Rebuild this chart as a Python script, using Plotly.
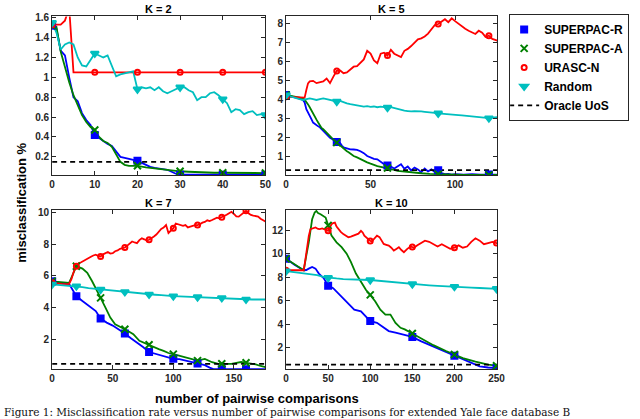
import plotly.graph_objects as go

# ---------------- data ----------------
# K = 2
k2_sr = [(0,1.52),(1,1.49),(2,1.27),(3,1.22),(4,1.0),(5,0.8),(6,0.76),(7,0.64),(8,0.57),(9,0.52),
         (10,0.42),(11,0.39),(12,0.36),(13,0.33),(14,0.31),(15,0.25),(16,0.2),(17,0.19),(18,0.18),
         (19,0.17),(20,0.16),(21,0.14),(22,0.12),(23,0.1),(24,0.09),(25,0.085),(26,0.08),(27,0.07),
         (28,0.05),(29,0.03),(30,0.02),(34,0.02),(38,0.02),(40,0.02),(44,0.02),(48,0.02),(50,0.02)]
k2_sa = [(0,1.52),(1,1.51),(2,1.26),(3,1.1),(4,0.95),(5,0.82),(6,0.72),(7,0.62),(8,0.55),(9,0.5),
         (10,0.47),(11,0.4),(12,0.36),(13,0.34),(14,0.3),(15,0.23),(16,0.15),(17,0.12),(18,0.11),
         (19,0.11),(20,0.11),(22,0.095),(24,0.085),(26,0.07),(28,0.06),(30,0.055),(32,0.05),
         (34,0.045),(36,0.04),(38,0.04),(40,0.04),(42,0.04),(44,0.038),(46,0.037),(48,0.037),(50,0.037)]
k2_ur = [(0,1.53),(1,1.53),(2,1.53),(3,1.57),(4,1.7),(5,1.05),(10,1.05),(20,1.05),(30,1.05),
         (40,1.05),(50,1.05)]
k2_rd = [(0,1.55),(1,1.45),(2,1.28),(3,1.33),(4,1.35),(5,1.33),(6,1.2),(7,1.12),(8,1.11),(9,1.18),
         (10,1.24),(11,1.22),(12,1.2),(13,1.22),(14,1.12),(15,1.01),(16,1.03),(17,1.04),(18,1.05),
         (19,1.06),(20,0.88),(21,0.9),(22,0.89),(23,0.9),(24,0.87),(25,0.9),(26,0.86),(27,0.84),
         (28,0.86),(29,0.88),(30,0.9),(31,0.9),(32,0.87),(33,0.85),(34,0.77),(35,0.8),(36,0.8),
         (37,0.84),(38,0.85),(39,0.82),(40,0.78),(41,0.74),(42,0.65),(43,0.68),(44,0.67),(45,0.63),
         (46,0.65),(47,0.66),(48,0.62),(49,0.63),(50,0.62)]
k2_oracle = 0.15
k2_marks = [0, 10, 20, 30, 40, 50]

# K = 5
k5_sr = [(0,4.24),(3,4.18),(6,4.1),(8,4.05),(10,3.98),(11,3.85),(12,3.5),(13,3.3),(14,3.1),(15,2.98),
         (16,2.8),(17,2.72),(18,2.68),(19,2.6),(20,2.55),(21,2.45),(22,2.38),(23,2.3),(24,2.17),
         (25,2.1),(26,2.0),(27,1.95),(28,1.88),(29,1.82),(30,1.78),(31,1.75),(32,1.73),(33,1.6),
         (34,1.5),(35,1.48),(36,1.45),(38,1.4),(40,1.39),(42,1.37),(44,1.3),(46,1.2),(48,1.05),
         (50,0.96),(52,0.9),(54,0.88),(56,0.75),(58,0.62),(60,0.55),(62,0.5),(64,0.4),(66,0.5),
         (68,0.62),(70,0.38),(72,0.5),(74,0.3),(76,0.45),(78,0.35),(80,0.2),(82,0.4),(84,0.25),
         (86,0.35),(88,0.2),(90,0.3),(92,0.15),(94,0.1),(96,0.12),(98,0.08),(100,0.1),(105,0.08),
         (110,0.1),(115,0.08),(120,0.09),(125,0.08)]
k5_sa = [(0,4.24),(5,4.15),(10,4.07),(11,4.0),(12,3.9),(13,3.75),(14,3.6),(15,3.42),(16,3.25),
         (17,3.1),(18,2.95),(19,2.8),(20,2.65),(21,2.52),(22,2.45),(23,2.35),(24,2.26),(25,2.18),
         (26,2.08),(27,2.0),(28,1.91),(29,1.83),(30,1.75),(31,1.7),(32,1.62),(33,1.55),(34,1.46),
         (35,1.38),(36,1.3),(37,1.25),(38,1.17),(39,1.1),(40,1.05),(42,0.98),(44,0.88),(46,0.8),
         (48,0.72),(50,0.65),(52,0.57),(54,0.52),(56,0.48),(58,0.45),(60,0.42),(62,0.38),(64,0.32),
         (66,0.27),(68,0.25),(70,0.22),(75,0.18),(80,0.15),(85,0.12),(90,0.1),(95,0.08),(100,0.07),
         (105,0.06),(110,0.06),(115,0.06),(120,0.06),(125,0.06)]
k5_ur = [(0,4.15),(2,4.14),(4,4.12),(6,4.1),(8,4.08),(10,4.07),(11,4.1),(12,4.5),(13,4.85),(14,4.95),
         (16,4.98),(18,4.86),(20,4.9),(22,4.95),(24,5.1),(26,4.86),(28,5.2),(30,5.5),(32,5.52),
         (34,5.38),(36,5.42),(38,5.55),(40,5.72),(42,5.75),(44,5.9),(46,6.1),(48,6.55),(50,6.4),
         (52,6.05),(54,5.9),(56,6.4),(58,6.45),(60,6.3),(62,6.6),(64,6.4),(66,6.3),(68,6.22),
         (70,6.55),(72,6.65),(74,6.8),(76,6.95),(78,7.15),(80,7.2),(82,7.3),(84,7.45),(86,7.65),
         (88,7.9),(90,7.95),(92,8.1),(94,8.2),(96,8.05),(98,8.25),(100,8.1),(102,7.95),(104,7.85),
         (106,7.7),(108,7.6),(110,7.5),(112,7.43),(114,7.6),(116,7.5),(118,7.28),(120,7.34),
         (122,7.17),(124,7.1),(125,7.08)]
k5_rd = [(0,4.23),(3,4.15),(5,4.06),(8,4.02),(10,3.98),(12,4.02),(14,4.06),(16,4.02),(18,3.98),
         (20,4.03),(22,4.06),(24,4.02),(26,3.98),(28,3.95),(30,3.9),(32,3.93),(34,3.85),(36,3.8),
         (38,3.76),(40,3.72),(42,3.7),(44,3.66),(46,3.63),(48,3.66),(50,3.62),(52,3.64),(54,3.6),
         (56,3.63),(58,3.6),(60,3.58),(62,3.6),(64,3.55),(66,3.5),(68,3.47),(70,3.42),(72,3.4),
         (74,3.38),(76,3.4),(78,3.37),(80,3.38),(82,3.36),(84,3.35),(86,3.32),(88,3.3),(90,3.28),
         (92,3.27),(94,3.25),(96,3.24),(98,3.22),(100,3.2),(102,3.19),(104,3.17),(106,3.15),
         (108,3.14),(110,3.12),(112,3.1),(114,3.09),(116,3.07),(118,3.05),(120,3.03),(122,3.06),
         (124,3.07),(125,3.08)]
k5_oracle = 0.31
k5_marks = [0, 30, 60, 90, 120]

# K = 7
k7_sr = [(0,5.65),(6,5.55),(14,5.49),(17,5.13),(20,4.7),(25,4.4),(30,4.1),(36,3.77),(40,3.3),
         (45,3.04),(50,2.85),(56,2.56),(60,2.35),(65,2.05),(70,1.8),(75,1.5),(80,1.18),(85,1.08),
         (90,0.97),(95,0.85),(100,0.75),(105,0.74),(110,0.64),(115,0.55),(120,0.45),(126,0.35),
         (130,0.2),(133,0.1),(136,0.1),(140,0.1),(150,0.1),(160,0.1),(170,0.1),(176,0.1)]
k7_sa = [(0,5.65),(14,5.55),(17,6.07),(20,6.6),(25,6.45),(29,6.18),(33,5.65),(36,5.23),(40,4.6),
         (44,3.98),(48,3.36),(52,2.94),(56,2.8),(60,2.62),(64,2.45),(67,2.31),(72,1.89),(76,1.75),
         (80,1.64),(84,1.5),(88,1.37),(92,1.25),(96,1.12),(100,1.05),(105,0.95),(110,0.85),
         (115,0.75),(120,0.64),(126,0.75),(132,0.54),(137,0.43),(140,0.44),(142,0.45),(148,0.43),
         (152,0.5),(156,0.55),(160,0.5),(164,0.45),(168,0.4),(172,0.3),(176,0.23)]
k7_ur = [(0,5.55),(4,5.5),(8,5.48),(12,5.47),(14,5.49),(16,5.8),(18,6.3),(20,6.6),(22,6.8),(24,6.85),
         (26,6.95),(28,7.05),(30,7.12),(32,7.2),(34,7.28),(36,7.33),(38,7.25),(40,7.22),(42,7.35),
         (44,7.45),(46,7.5),(48,7.4),(50,7.43),(52,7.55),(54,7.6),(56,7.7),(58,7.72),(60,7.78),
         (62,7.9),(64,8.05),(66,8.16),(68,8.1),(70,8.06),(72,8.25),(74,8.37),(76,8.3),(78,8.22),
         (80,8.27),(82,8.35),(84,8.48),(86,8.6),(88,8.79),(90,8.95),(92,9.04),(94,9.2),(96,8.7),
         (98,8.85),(100,9.0),(102,9.3),(104,9.25),(106,9.2),(108,9.15),(110,9.2),(112,9.05),
         (114,9.1),(116,9.15),(118,9.2),(120,9.2),(122,9.25),(124,9.35),(126,9.4),(128,9.5),
         (130,9.45),(132,9.52),(134,9.6),(136,9.67),(138,9.62),(140,9.7),(142,9.73),(144,9.85),
         (146,9.95),(148,10.04),(150,9.9),(152,9.75),(154,9.73),(156,9.85),(158,10.0),(160,10.1),
         (162,9.95),(164,9.84),(166,9.8),(168,9.78),(170,9.73),(172,9.6),(174,9.5),(176,9.42)]
k7_rd = [(0,5.45),(5,5.42),(10,5.4),(15,5.38),(20,5.34),(25,5.28),(30,5.22),(35,5.18),(40,5.13),
         (45,5.08),(50,5.05),(55,5.0),(60,4.98),(65,4.93),(70,4.9),(75,4.86),(80,4.82),(85,4.8),
         (90,4.77),(95,4.73),(100,4.71),(105,4.7),(110,4.68),(115,4.66),(120,4.65),(125,4.63),
         (130,4.62),(135,4.6),(140,4.6),(145,4.57),(150,4.55),(155,4.52),(160,4.5),(165,4.5),
         (170,4.5),(176,4.5)]
k7_oracle = 0.43
k7_marks = [0, 20, 40, 60, 80, 100, 120, 140, 160]

# K = 10
k10_sr = [(0,9.56),(10,9.05),(21,8.58),(24,8.6),(27,8.72),(31,8.86),(35,8.72),(39,8.3),(45,7.88),
          (50,7.27),(56,7.05),(62,6.63),(68,6.2),(75,5.64),(81,5.22),(89,5.08),(95,4.66),(100,4.25),
          (108,4.1),(114,3.82),(122,3.4),(130,3.26),(138,3.12),(145,3.0),(150,2.9),(160,2.55),
          (175,2.1),(190,1.6),(200,1.3),(210,1.0),(220,0.7),(225,0.6),(230,0.4),(240,0.3),
          (250,0.25),(251,0.25)]
k10_sa = [(0,9.56),(10,9.1),(21,8.58),(24,9.8),(27,10.96),(31,12.93),(34,13.5),(36,13.63),(38,13.45),
          (41,13.35),(44,13.2),(47,13.07),(50,12.4),(54,11.53),(60,10.96),(66,10.55),(72,9.99),
          (77,9.29),(83,8.3),(89,7.6),(95,6.9),(100,6.48),(106,5.92),(112,5.22),(118,4.8),(124,4.8),
          (130,4.1),(136,3.68),(141,3.54),(150,3.2),(160,2.8),(175,2.2),(190,1.7),(200,1.4),
          (210,1.1),(225,0.8),(240,0.55),(250,0.45),(251,0.45)]
k10_ur = [(0,8.58),(10,8.58),(21,8.58),(23,9.5),(25,10.7),(27,11.5),(29,12.08),(32,12.15),(35,12.22),
          (38,12.1),(40,12.08),(43,12.15),(46,12.08),(48,12.0),(50,11.94),(52,12.2),(54,12.5),
          (56,12.6),(58,12.64),(60,12.3),(62,12.08),(65,11.85),(68,11.66),(71,11.5),(74,11.38),
          (77,11.45),(80,11.52),(83,11.6),(86,11.7),(89,11.94),(91,11.8),(93,11.52),(96,11.3),
          (99,11.1),(100,11.08),(102,11.05),(105,11.3),(108,11.52),(111,11.4),(114,11.1),(116,10.82),
          (119,10.75),(122,10.68),(125,10.5),(128,10.26),(131,10.4),(134,10.54),(137,10.3),(140,10.12),
          (144,10.4),(148,10.6),(150,10.55),(152,10.5),(156,10.7),(160,10.9),(165,11.1),(170,11.0),
          (175,10.8),(180,10.6),(185,10.8),(190,10.6),(195,10.4),(200,10.5),(205,10.7),(210,10.5),
          (215,10.6),(220,11.0),(225,11.3),(230,11.1),(235,10.8),(240,10.9),(245,11.0),(250,10.9),
          (251,10.85)]
k10_rd = [(0,8.5),(10,8.4),(21,8.3),(30,8.2),(37,8.16),(45,8.0),(50,7.94),(60,7.88),(68,7.83),
          (75,7.8),(83,7.75),(90,7.77),(100,7.75),(110,7.68),(118,7.6),(128,7.53),(138,7.47),
          (150,7.4),(160,7.35),(170,7.3),(180,7.25),(190,7.2),(200,7.18),(210,7.15),(220,7.1),
          (230,7.07),(240,7.03),(250,7.0),(251,7.0)]
k10_oracle = 0.55
k10_marks = [0, 50, 100, 150, 200, 250]

panel_titles = ["K = 2", "K = 5", "K = 7", "K = 10"]
method_names = ["SUPERPAC-R", "SUPERPAC-A", "URASC-N", "Random"]
oracle_name = "Oracle UoS"
x_label = "number of pairwise comparisons"
y_label = "misclassification %"
caption = ("Figure 1: Misclassification rate versus number of pairwise comparisons "
           "for extended Yale face database B")

panels = [
    dict(series=[k2_sr, k2_sa, k2_ur, k2_rd], oracle=k2_oracle, marks=k2_marks),
    dict(series=[k5_sr, k5_sa, k5_ur, k5_rd], oracle=k5_oracle, marks=k5_marks),
    dict(series=[k7_sr, k7_sa, k7_ur, k7_rd], oracle=k7_oracle, marks=k7_marks),
    dict(series=[k10_sr, k10_sa, k10_ur, k10_rd], oracle=k10_oracle, marks=k10_marks),
]

# ---------------- styling ----------------
W, H = 640, 419
colors = ["#0000FF", "#008000", "#FF0000", "#00BFBF"]
symbols = ["square", "x-thin-open", "circle-open", "triangle-down"]
msizes = [6, 7, 5, 7]
AX = "#262626"
FONT = "Liberation Sans"

x_ranges = [[0, 50], [0, 125], [0, 176], [0, 251]]
y_ranges = [[0.016, 1.613], [0.05, 8.35], [0.08, 10.15], [0.13, 13.71]]
x_ticks = [[0, 10, 20, 30, 40, 50], [0, 50, 100], [0, 50, 100, 150], [0, 50, 100, 150, 200, 250]]
y_ticks = [[0.2, 0.4, 0.6, 0.8, 1, 1.2, 1.4, 1.6], [1, 2, 3, 4, 5, 6, 7, 8],
           [2, 4, 6, 8, 10], [2, 4, 6, 8, 10, 12]]
col_px = [(50, 267), (288, 503)]
row_px = [(12.5, 172.8), (208, 369)]

fig = go.Figure()

for p, panel in enumerate(panels):
    sfx = "" if p == 0 else str(p + 1)
    xa, ya = "x" + sfx, "y" + sfx
    for m, ser in enumerate(panel["series"]):
        xs = [v[0] for v in ser]
        ys = [v[1] for v in ser]
        fig.add_trace(go.Scatter(x=xs, y=ys, mode="lines", xaxis=xa, yaxis=ya,
                                 line=dict(color=colors[m], width=1.8),
                                 showlegend=False, hoverinfo="skip"))
    all_x = [v[0] for v in panel["series"][0]]
    fig.add_trace(go.Scatter(x=[min(all_x), max(all_x)], y=[panel["oracle"]] * 2, mode="lines",
                             xaxis=xa, yaxis=ya, name=oracle_name, legendrank=5,
                             line=dict(color="black", width=1.8, dash="5px,4px"),
                             showlegend=(p == 0), legendgroup="oracle"))
    for m, ser in enumerate(panel["series"]):
        mk = [v for v in ser if v[0] in panel["marks"]]
        fig.add_trace(go.Scatter(x=[v[0] for v in mk], y=[v[1] for v in mk], mode="markers",
                                 xaxis=xa, yaxis=ya, name=method_names[m], legendrank=m + 1,
                                 legendgroup=method_names[m], showlegend=(p == 0),
                                 marker=dict(symbol=symbols[m], size=msizes[m], color=colors[m],
                                             line=dict(color=colors[m], width=2))))

axis_common = dict(showline=True, linecolor=AX, linewidth=1, mirror="ticks", ticks="inside",
                   ticklen=4, tickcolor=AX, tickwidth=1, showgrid=False, zeroline=False,
                   tickfont=dict(family=FONT, size=10, color=AX, weight="bold"))

layout = dict(width=W, height=H, margin=dict(l=0, r=0, t=0, b=0),
              paper_bgcolor="white", plot_bgcolor="white", showlegend=True)
annotations = []
for p in range(4):
    r, c = divmod(p, 2)
    sfx = "" if p == 0 else str(p + 1)
    x0, x1 = col_px[c]
    y0, y1 = row_px[r]
    layout["xaxis" + sfx] = dict(axis_common, domain=[x0 / W, x1 / W], range=x_ranges[p],
                                 tickvals=x_ticks[p], anchor="y" + sfx)
    layout["yaxis" + sfx] = dict(axis_common, domain=[1 - y1 / H, 1 - y0 / H], range=y_ranges[p],
                                 tickvals=y_ticks[p], anchor="x" + sfx)
    annotations.append(dict(text=panel_titles[p], xref="x" + sfx + " domain", yref="y" + sfx + " domain",
                            x=0.5, y=1, yanchor="bottom", xanchor="center", showarrow=False,
                            yshift=-1, font=dict(family=FONT, size=11, color="black", weight="bold")))

annotations.append(dict(text=y_label, xref="paper", yref="paper", x=18 / W, y=1 - 201 / H,
                        textangle=-90, showarrow=False, xanchor="center", yanchor="middle",
                        font=dict(family=FONT, size=13, color="black", weight="bold")))
annotations.append(dict(text=x_label, xref="paper", yref="paper", x=258 / W, y=1 - 398.5 / H,
                        showarrow=False, xanchor="center", yanchor="middle", borderpad=0,
                        font=dict(family=FONT, size=13, color="black", weight="bold")))
annotations.append(dict(text=caption, xref="paper", yref="paper", x=0, y=0,
                        showarrow=False, xanchor="left", yanchor="bottom", borderpad=0,
                        font=dict(family="DejaVu Serif", size=10.5, color="#111111")))
layout["annotations"] = annotations
layout["legend"] = dict(x=515 / W, y=1 - 10 / H, xanchor="left", yanchor="top",
                        bgcolor="white", bordercolor=AX, borderwidth=1, itemwidth=30,
                        indentation=-6, traceorder="normal",
                        font=dict(family=FONT, size=12, color="black", weight="bold"))
fig.update_layout(**layout)
fig.write_html("out.html", config={"displayModeBar": False},
               post_script="document.body.style.margin='0';document.body.style.overflow='hidden';")
